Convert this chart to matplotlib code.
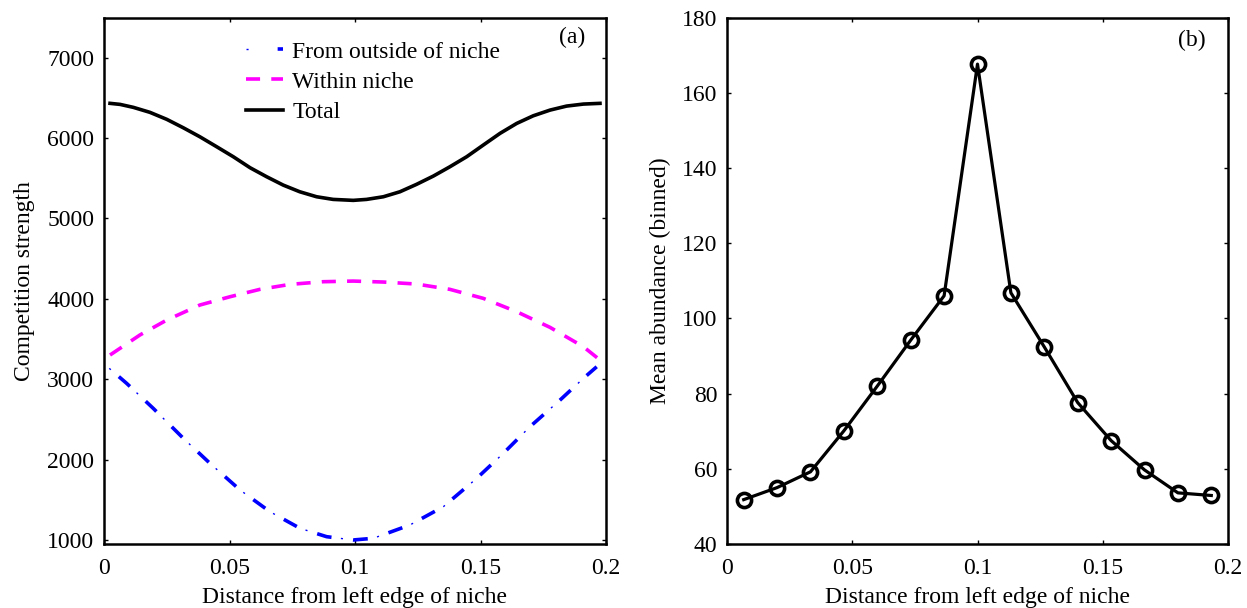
import matplotlib
matplotlib.use("Agg")
import matplotlib.pyplot as plt
from matplotlib.legend_handler import HandlerTuple

plt.rcParams['font.family'] = ['Liberation Serif', 'DejaVu Serif']

# ---- Panel (a) data ----
x_total = [0.0024, 0.0064, 0.0117, 0.0183, 0.025, 0.0316, 0.0382, 0.0449, 0.0515, 0.0582,
           0.0648, 0.0714, 0.078, 0.0847, 0.0913, 0.0993, 0.1046, 0.1113, 0.1179, 0.1245,
           0.1312, 0.1378, 0.1445, 0.1511, 0.1578, 0.1644, 0.171, 0.1777, 0.1843, 0.191, 0.1976]
total = [6432, 6419, 6382, 6320, 6233, 6128, 6016, 5892, 5768, 5631,
         5519, 5415, 5332, 5270, 5237, 5225, 5237, 5270, 5332, 5424,
         5527, 5643, 5768, 5913, 6059, 6182, 6277, 6348, 6398, 6423, 6432]

x_within = [0.0024, 0.0143, 0.025, 0.0382, 0.0502, 0.0621, 0.0741, 0.0873, 0.0993,
            0.1113, 0.1245, 0.1378, 0.1511, 0.1644, 0.1777, 0.191, 0.1976]
within = [3301, 3550, 3736, 3923, 4026, 4118, 4180, 4213, 4221,
          4209, 4184, 4118, 4006, 3840, 3645, 3404, 3239]

x_outside = [0.0021, 0.009, 0.0196, 0.0316, 0.0422, 0.0542, 0.0661, 0.0781, 0.0887, 0.0993,
             0.1073, 0.1219, 0.1352, 0.1485, 0.1591, 0.1697, 0.1817, 0.191, 0.1963]
outside = [3135, 2949, 2638, 2265, 1954, 1622, 1352, 1145, 1041, 1000,
           1021, 1187, 1414, 1767, 2078, 2409, 2741, 3011, 3155]

labels_a = ["From outside of niche", "Within niche", "Total"]

# ---- Panel (b) data ----
x_b = [0.00667, 0.02, 0.03333, 0.04667, 0.06, 0.07333, 0.08667, 0.1,
       0.11333, 0.12667, 0.14, 0.15333, 0.16667, 0.18, 0.19333]
abundance = [51.8, 55.0, 59.2, 70.1, 82.0, 94.2, 106.0, 167.6,
             106.8, 92.4, 77.6, 67.5, 59.7, 53.6, 52.9]

xticks = [0, 0.05, 0.1, 0.15, 0.2]
xticklabels = ["0", "0.05", "0.1", "0.15", "0.2"]

fs = 17
W, H = 1247, 608
fig = plt.figure(figsize=(W / 100, H / 100), dpi=100)
ax1 = fig.add_axes([104 / W, 1 - 544 / H, 502 / W, 526.5 / H])
ax2 = fig.add_axes([727 / W, 1 - 544 / H, 501 / W, 526.5 / H])

# blue dash-dot: thick dashes + thin dots (MATLAB-like rendering)
lw = 2.6
b_dash, = ax1.plot(x_outside, outside, color='blue', lw=lw,
                   linestyle=(6.6, (4.1, 6.0)), dash_capstyle='butt')
b_dot, = ax1.plot(x_outside, outside, color='blue', lw=1.0,
                  linestyle=(0, (1.5, 24.8)), dash_capstyle='butt')
m_line, = ax1.plot(x_within, within, color='magenta', lw=lw,
                   linestyle=(0, (3.9, 3.1)), dash_capstyle='butt')
k_line, = ax1.plot(x_total, total, color='black', lw=lw)

ax1.set_xlim(0, 0.2)
ax1.set_ylim(950, 7500)
ax1.set_yticks([1000, 2000, 3000, 4000, 5000, 6000, 7000])
ax1.set_xlabel("Distance from left edge of niche", fontsize=fs, labelpad=5.5)
ax1.set_ylabel("Competition strength", fontsize=fs, labelpad=9)
ax1.legend([(b_dot, b_dash), m_line, k_line], labels_a,
           handler_map={tuple: HandlerTuple(ndivide=None)},
           loc='upper left', bbox_to_anchor=(0.283, 0.955), frameon=False, fontsize=fs,
           handlelength=1.57, handletextpad=0.38, labelspacing=0.36,
           borderpad=0, borderaxespad=0)
ax1.text(0.958, 0.963, "(a)", transform=ax1.transAxes, ha='right', va='center', fontsize=fs)

ax2.plot(x_b, abundance, color='black', lw=2.3, marker='o', markersize=10.2,
         markerfacecolor='none', markeredgewidth=2.6)
ax2.set_xlim(0, 0.2)
ax2.set_ylim(40, 180)
ax2.set_yticks(list(range(40, 181, 20)))
ax2.set_xlabel("Distance from left edge of niche", fontsize=fs, labelpad=5.5)
ax2.set_ylabel("Mean abundance (binned)", fontsize=fs, labelpad=8)
ax2.text(0.956, 0.957, "(b)", transform=ax2.transAxes, ha='right', va='center', fontsize=fs)

for ax in (ax1, ax2):
    ax.set_xticks(xticks)
    ax.set_xticklabels(xticklabels)
    ax.tick_params(direction='in', length=3, width=1, labelsize=fs, top=True, right=True)
    ax.tick_params(axis='x', pad=10)
    ax.tick_params(axis='y', pad=7)
    for s in ax.spines.values():
        s.set_linewidth(1.8)

fig.savefig("out.png", dpi=100)
